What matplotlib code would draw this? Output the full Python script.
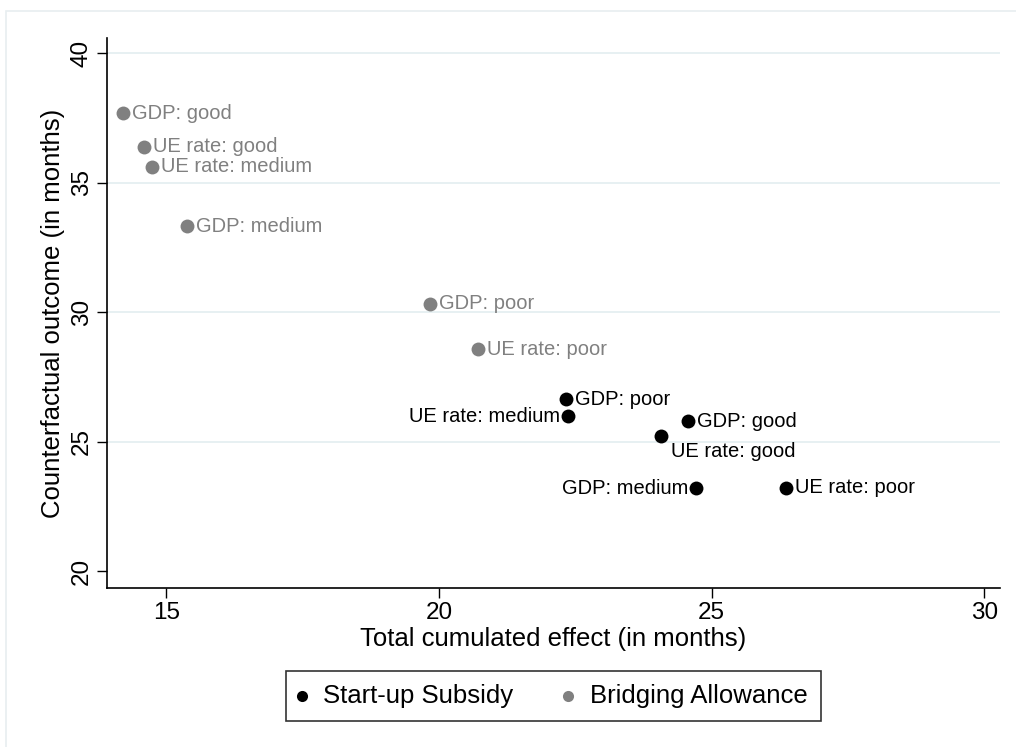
import numpy as np
import matplotlib
matplotlib.use("Agg")
import matplotlib.pyplot as plt
from matplotlib.patches import Rectangle

plt.rcParams['font.family'] = ['Liberation Sans', 'DejaVu Sans']

# Start-up Subsidy (black)
su_labels = ["GDP: poor", "UE rate: medium", "GDP: good", "UE rate: good", "GDP: medium", "UE rate: poor"]
su_x = [22.34, 22.37, 24.57, 24.08, 24.72, 26.37]
su_y = [26.64, 25.97, 25.78, 25.20, 23.20, 23.22]
su_pos = ["r", "l", "r", "br", "l", "r"]

# Bridging Allowance (gray)
ba_labels = ["GDP: good", "UE rate: good", "UE rate: medium", "GDP: medium", "GDP: poor", "UE rate: poor"]
ba_x = [14.21, 14.60, 14.74, 15.39, 19.84, 20.71]
ba_y = [37.68, 36.39, 35.62, 33.31, 30.32, 28.57]
ba_pos = ["r", "r", "r", "r", "r", "r"]

xticks = [15, 20, 25, 30]
yticks = [20, 25, 30, 35, 40]

gray = "#808080"

fig = plt.figure(figsize=(10.16, 7.47), dpi=100)
# light frame of the graph region
fig.patches.append(Rectangle((6/1016, -0.1), 1.0, 1.1 - 11/747, transform=fig.transFigure,
                             fill=False, edgecolor="#e8eef0", lw=1.2))
ax = fig.add_axes([106.7/1016, 1 - 588.3/747, (1000 - 106.7)/1016, (588.3 - 38.3)/747])

for g in [25, 30, 35, 40]:
    ax.axhline(g, color="#e3eef0", lw=1.2, zorder=0)

ax.scatter(su_x, su_y, s=100, color="black", zorder=3, label="Start-up Subsidy", linewidths=0)
ax.scatter(ba_x, ba_y, s=100, color=gray, zorder=3, label="Bridging Allowance", linewidths=0)

fs_lab = 14.5

def put_labels(xs, ys, labs, pos, col):
    for x, y, t, p in zip(xs, ys, labs, pos):
        if p == "r":
            ax.annotate(t, (x, y), xytext=(6.5, 0), textcoords="offset points",
                        ha="left", va="center", fontsize=fs_lab, color=col)
        elif p == "l":
            ax.annotate(t, (x, y), xytext=(-6, 0), textcoords="offset points",
                        ha="right", va="center", fontsize=fs_lab, color=col)
        elif p == "br":
            ax.annotate(t, (x, y), xytext=(7, -11), textcoords="offset points",
                        ha="left", va="center", fontsize=fs_lab, color=col)

put_labels(su_x, su_y, su_labels, su_pos, "black")
put_labels(ba_x, ba_y, ba_labels, ba_pos, gray)

ax.set_xlim(13.91, 30.29)
ax.set_ylim(19.33, 40.58)
ax.set_xticks(xticks)
ax.set_yticks(yticks)
ax.set_xticklabels([str(v) for v in xticks], fontsize=17.5)
ax.set_yticklabels([str(v) for v in yticks], fontsize=17.5, rotation=90, va="center")
ax.tick_params(direction="out", length=7, width=1, pad=3)
ax.spines["top"].set_visible(False)
ax.spines["right"].set_visible(False)
for s in ["left", "bottom"]:
    ax.spines[s].set_linewidth(1.2)
ax.set_xlabel("Total cumulated effect (in months)", fontsize=18.5, labelpad=2)
ax.set_ylabel("Counterfactual outcome (in months)", fontsize=18.5, labelpad=4)

leg = fig.legend(loc="center", bbox_to_anchor=(553.5/1016, 1 - 696/747), ncol=2,
                 fontsize=18.5, frameon=True, fancybox=False, edgecolor="black",
                 handletextpad=0.75, columnspacing=2.04, borderpad=0.52, scatterpoints=1,
                 handlelength=0.2, markerscale=0.8)
leg.get_frame().set_linewidth(1.2)

fig.savefig("out.png", dpi=100)
